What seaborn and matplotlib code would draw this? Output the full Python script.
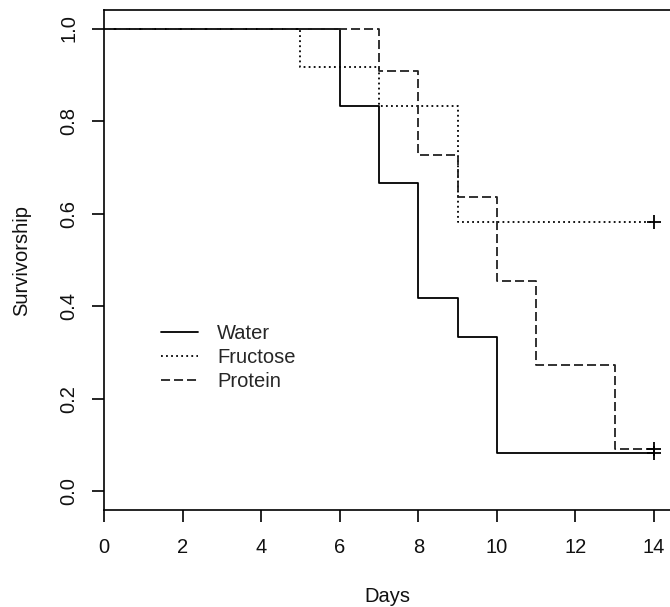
import matplotlib
matplotlib.use("Agg")
import matplotlib.pyplot as plt
import seaborn as sns
import pandas as pd

# Kaplan-Meier step data (time, survival)
water_days = [0, 6, 7, 8, 9, 10, 14]
water_surv = [1.0, 0.833, 0.667, 0.417, 0.333, 0.083, 0.083]
fructose_days = [0, 5, 7, 9, 14]
fructose_surv = [1.0, 0.917, 0.833, 0.583, 0.583]
protein_days = [0, 7, 8, 9, 10, 11, 13, 14]
protein_surv = [1.0, 0.909, 0.727, 0.636, 0.455, 0.273, 0.091, 0.091]

groups = ["Water", "Fructose", "Protein"]
censor_days = [14, 14, 14]
censor_surv = [0.083, 0.583, 0.091]

x_ticks = [0, 2, 4, 6, 8, 10, 12, 14]
y_ticks = [0.0, 0.2, 0.4, 0.6, 0.8, 1.0]

sns.set_theme(style="ticks")
plt.rcParams["font.family"] = ["Liberation Sans", "DejaVu Sans"]

df = pd.concat([
    pd.DataFrame({"Days": water_days, "Surv": water_surv, "Group": "Water"}),
    pd.DataFrame({"Days": fructose_days, "Surv": fructose_surv, "Group": "Fructose"}),
    pd.DataFrame({"Days": protein_days, "Surv": protein_surv, "Group": "Protein"}),
], ignore_index=True)
cens = pd.DataFrame({"Days": censor_days, "Surv": censor_surv, "Group": groups})

fig = plt.figure(figsize=(6.70, 6.07), dpi=100)
ax = fig.add_axes([104 / 670, 1 - 510 / 607, 1 - 104 / 670, 500 / 607])

sns.lineplot(data=df, x="Days", y="Surv", hue="Group", style="Group",
             hue_order=groups, style_order=groups,
             palette={"Water": "black", "Fructose": "black", "Protein": "#222222"},
             dashes={"Water": "", "Fructose": (1, 1.8), "Protein": (5, 2.2)},
             drawstyle="steps-post", estimator=None, sort=False,
             linewidth=1.3, ax=ax)
sns.scatterplot(data=cens, x="Days", y="Surv", marker="+", color="black",
                s=110, linewidth=1.3, ax=ax, legend=False, zorder=5)

ax.set_xlim(0, 14.407)
ax.set_ylim(-0.04, 1.04)
ax.set_xticks(x_ticks)
ax.set_xticklabels([str(v) for v in x_ticks])
ax.set_yticks(y_ticks)
ax.set_yticklabels([f"{v:.1f}" for v in y_ticks], rotation=90, va="center")

for s in ["left", "bottom", "top"]:
    ax.spines[s].set_color("black")
    ax.spines[s].set_linewidth(1.2)
ax.spines["right"].set_visible(False)
ax.tick_params(axis="both", length=8.5, width=1.2, color="black",
               labelsize=14.5, labelcolor="#111111", direction="out")
ax.tick_params(axis="x", pad=12)
ax.tick_params(axis="y", pad=10)

ax.set_xlabel("Days", fontsize=14.5, labelpad=21, color="#111111")
ax.set_ylabel("Survivorship", fontsize=14.5, labelpad=20, color="#111111")

handles, labels = ax.get_legend_handles_labels()
ax.legend(handles, labels, loc="upper left", bbox_to_anchor=(0.1007, 0.372),
          frameon=False, fontsize=14.5, handlelength=1.85, handletextpad=0.95,
          labelspacing=0.25, borderpad=0, borderaxespad=0)

fig.savefig("out.png", dpi=100)
